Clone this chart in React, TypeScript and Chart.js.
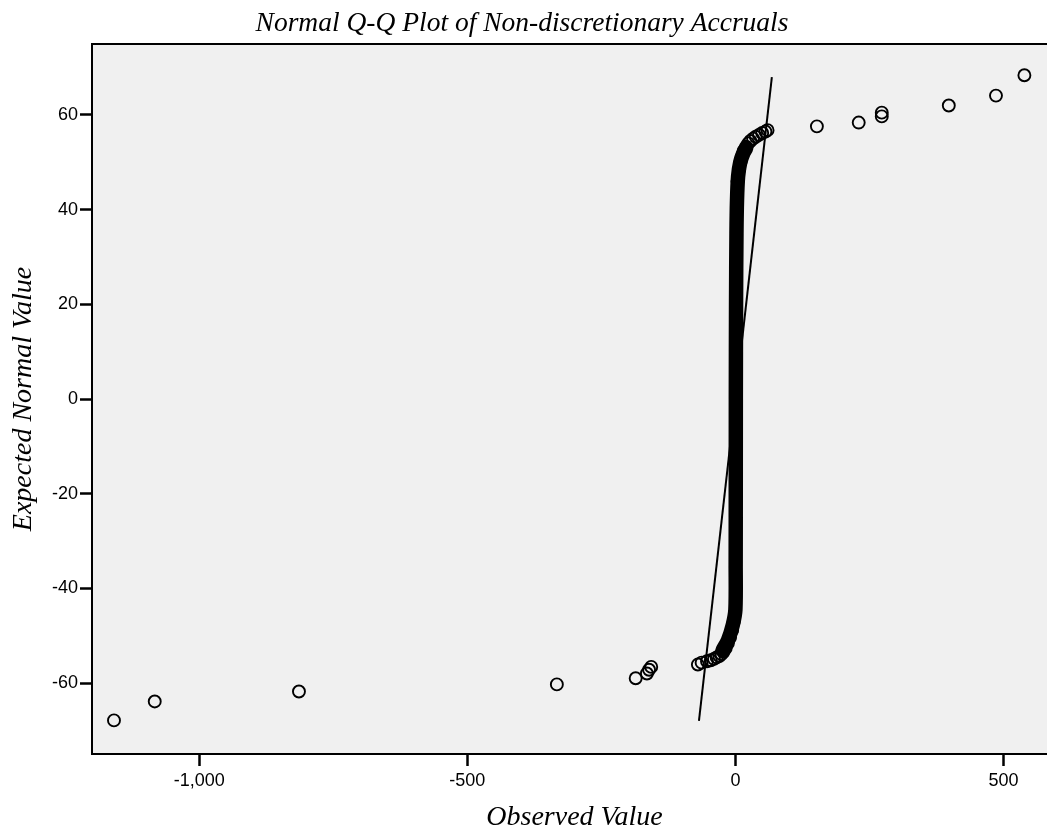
import React, { useEffect, useRef } from "react";
import { Chart, registerables } from "chart.js";

Chart.register(...registerables);

const chartTitle = "Normal Q-Q Plot of Non-discretionary Accruals";
const xAxisTitle = "Observed Value";
const yAxisTitle = "Expected Normal Value";

const xTickValues = [-1000, -500, 0, 500];
const yTickValues = [-60, -40, -20, 0, 20, 40, 60];

// individual observations that are visible as separate circles
const observedPoints = [
  -1159, -1083, -814, -333, -186, -165, -161, -157, -70, -63, -53, -46, -40, -35, -30, -26, -22, -18, -14, -10, -6, -3,
  4, 7, 10, 13, 16, 20, 24, 28, 33, 38, 44, 50, 56, 60, 152, 230, 273, 273, 398, 486, 539,
];
const expectedPoints = [
  -67.9, -63.9, -61.8, -60.3, -59.0, -58.0, -57.2, -56.6, -56.1, -55.7, -55.4, -55.2, -54.9, -54.6, -54.3, -53.9, -53.4,
  -52.6, -51.6, -50.4, -48.8, -47.0,
  46.0, 48.5, 50.3, 51.5, 52.5, 53.3, 54.0, 54.5, 55.0, 55.4, 55.8, 56.2, 56.5, 56.8, 57.6, 58.4, 59.7, 60.5, 62.0, 64.1,
  68.4,
];

// centre line of the dense, overlapping mass of observations near zero
const bandObserved = [-24, -14, -5, 0, 0.5, 0.7, 0.8, 1.2, 2, 3, 5, 9, 15, 20];
const bandExpected = [-53.1, -51, -47.8, -44.5, -35, -15, 0, 20, 35, 42, 47, 50, 52, 53];

// reference line
const refObserved = [-68, 68];
const refExpected = [-68, 68];

const X_MIN = -1200;
const X_MAX = 600;
const Y_MIN = -75;
const Y_MAX = 75;

const CANVAS_W = 1065;
const CANVAS_H = 830;

const tickFont = { family: '"Liberation Sans", Arial, sans-serif', size: 18 };
const titleFont = { family: '"Liberation Serif", "Times New Roman", serif', size: 28, style: "italic" as const };

const framePlugin = {
  id: "frame",
  beforeDraw(chart: any) {
    const { ctx, chartArea } = chart;
    ctx.save();
    ctx.fillStyle = "#F0F0F0";
    ctx.fillRect(chartArea.left, chartArea.top, chartArea.right - chartArea.left, chartArea.bottom - chartArea.top);
    ctx.restore();
  },
  afterDraw(chart: any) {
    const { ctx, chartArea } = chart;
    ctx.save();
    ctx.strokeStyle = "#000";
    ctx.lineWidth = 2;
    ctx.strokeRect(chartArea.left, chartArea.top, chartArea.right - chartArea.left, chartArea.bottom - chartArea.top);
    ctx.fillStyle = "#000";
    ctx.font = 'italic 27.5px "Liberation Serif", "Times New Roman", serif';
    ctx.textAlign = "center";
    ctx.textBaseline = "alphabetic";
    ctx.fillText(chartTitle, 522, 31);
    ctx.restore();
  },
};

export default function App() {
  const canvasRef = useRef<HTMLCanvasElement | null>(null);

  useEffect(() => {
    if (!canvasRef.current) return;
    const chart = new Chart(canvasRef.current, {
      type: "scatter",
      data: {
        datasets: [
          {
            type: "line",
            label: "Reference",
            data: refObserved.map((x, i) => ({ x, y: refExpected[i] })),
            borderColor: "#000",
            borderWidth: 2,
            pointRadius: 0,
            fill: false,
          },
          {
            type: "line",
            label: "Dense observations",
            data: bandObserved.map((x, i) => ({ x, y: bandExpected[i] })),
            borderColor: "#000",
            borderWidth: 14.5,
            borderCapStyle: "round",
            borderJoinStyle: "round",
            tension: 0.3,
            pointRadius: 0,
            fill: false,
          },
          {
            label: "Observations",
            data: observedPoints.map((x, i) => ({ x, y: expectedPoints[i] })),
            pointStyle: "circle",
            pointRadius: 6,
            pointBorderWidth: 1.9,
            pointBorderColor: "#000",
            pointBackgroundColor: "rgba(0,0,0,0)",
          },
        ],
      },
      options: {
        responsive: false,
        animation: false,
        layout: { padding: { top: 44, right: 0, left: 0, bottom: 0 } },
        plugins: {
          legend: { display: false },
          tooltip: { enabled: false },
          title: { display: false },
        },
        scales: {
          x: {
            type: "linear",
            min: X_MIN,
            max: X_MAX,
            afterBuildTicks: (axis: any) => {
              axis.ticks = xTickValues.map((v) => ({ value: v }));
            },
            afterFit: (axis: any) => {
              axis.height = 76;
              axis.paddingRight = 0;
              axis.paddingLeft = 0;
            },
            ticks: {
              font: tickFont,
              color: "#000",
              padding: 4,
              maxRotation: 0,
              callback: (v: any) => Number(v).toLocaleString("en-US"),
            },
            grid: { drawOnChartArea: false, drawTicks: true, tickLength: 12, tickWidth: 2.5, tickColor: "#000" },
            border: { display: true, color: "#000", width: 2 },
            title: {
              display: true,
              text: xAxisTitle,
              font: titleFont,
              color: "#000",
              padding: { top: 0, bottom: -4 },
            },
          },
          y: {
            type: "linear",
            min: Y_MIN,
            max: Y_MAX,
            afterBuildTicks: (axis: any) => {
              axis.ticks = yTickValues.map((v) => ({ value: v }));
            },
            afterFit: (axis: any) => {
              axis.width = 92;
            },
            ticks: {
              font: tickFont,
              color: "#000",
              padding: 2,
              callback: (v: any) => Number(v).toLocaleString("en-US"),
            },
            grid: { drawOnChartArea: false, drawTicks: true, tickLength: 12, tickWidth: 2.5, tickColor: "#000" },
            border: { display: true, color: "#000", width: 2 },
            title: {
              display: true,
              text: yAxisTitle,
              font: titleFont,
              color: "#000",
              padding: { top: 7, bottom: 0 },
            },
          },
        },
      },
      plugins: [framePlugin],
    });
    return () => chart.destroy();
  }, []);

  return (
    <div
      style={{
        position: "absolute",
        left: 0,
        top: 0,
        width: 1047,
        height: 830,
        overflow: "hidden",
        background: "#fff",
      }}
    >
      <canvas
        ref={canvasRef}
        width={CANVAS_W}
        height={CANVAS_H}
        style={{ display: "block", width: CANVAS_W, height: CANVAS_H }}
      />
    </div>
  );
}
